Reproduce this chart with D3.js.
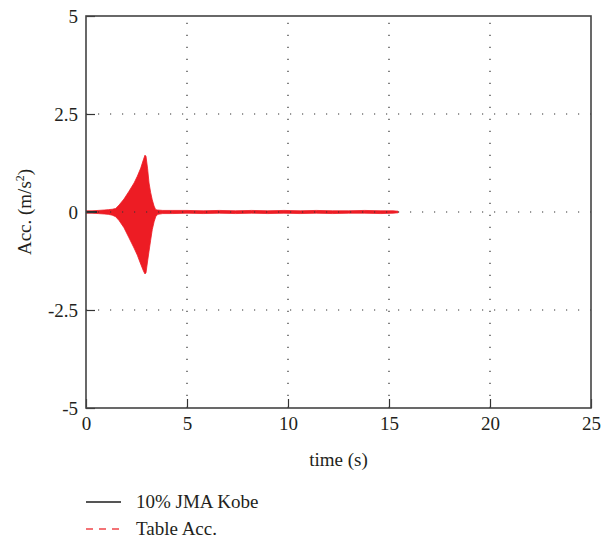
<!DOCTYPE html>
<html>
<head>
<meta charset="utf-8">
<script src="https://cdn.jsdelivr.net/npm/d3@7"></script>
<style>
  html, body { margin: 0; padding: 0; background: #fff; }
  svg { display: block; }
  text { font-family: "Liberation Serif", "DejaVu Serif", serif; fill: #231f20; }
</style>
</head>
<body>
<div id="chart"></div>
<script>
// Axis ticks
const xTicks = [0, 5, 10, 15, 20, 25];
const yTicks = [-5, -2.5, 0, 2.5, 5];
const yTickLabels = ["-5", "-2.5", "0", "2.5", "5"];

// Table acceleration record: upper / lower envelope of the dense oscillation (m/s²)
const tableTime  = [0, 0.3, 0.6, 0.9, 1.1, 1.3, 1.47, 1.64, 1.88, 2.13, 2.38, 2.54, 2.71, 2.84, 2.92, 2.97, 3.05, 3.12, 3.2, 3.28, 3.37, 3.45, 3.55, 3.8, 4.3, 5.0, 5.8, 6.6, 7.4, 8.2, 9.0, 9.8, 10.6, 11.4, 12.2, 13.0, 13.8, 14.6, 15.2, 15.45];
const tableUpper = [0.03, 0.03, 0.04, 0.05, 0.06, 0.07, 0.09, 0.18, 0.33, 0.53, 0.74, 0.91, 1.12, 1.33, 1.45, 1.42, 1.1, 0.74, 0.5, 0.31, 0.15, 0.06, 0.05, 0.04, 0.04, 0.04, 0.03, 0.04, 0.03, 0.04, 0.03, 0.04, 0.03, 0.04, 0.03, 0.03, 0.04, 0.03, 0.03, 0.02];
const tableLower = [-0.03, -0.03, -0.04, -0.05, -0.06, -0.08, -0.12, -0.22, -0.40, -0.66, -0.92, -1.10, -1.33, -1.50, -1.58, -1.55, -1.25, -1.00, -0.72, -0.45, -0.25, -0.12, -0.06, -0.04, -0.04, -0.03, -0.04, -0.03, -0.04, -0.03, -0.04, -0.03, -0.04, -0.03, -0.04, -0.03, -0.03, -0.04, -0.03, -0.02];

// 10% JMA Kobe record: the part left visible near the start of the trace
const kobeTime = [0, 0.2, 0.4, 0.55];
const kobeAcc  = [0, 0, 0, 0];

const legendNames = ["10% JMA Kobe", "Table Acc."];

const W = 602, H = 538;
const margin = { left: 86, right: 11, top: 16, bottom: 130 };

const svg = d3.select("#chart").append("svg")
  .attr("width", W).attr("height", H);

const x = d3.scaleLinear().domain([0, 25]).range([margin.left, W - margin.right]);
const y = d3.scaleLinear().domain([-5, 5]).range([H - margin.bottom, margin.top]);

const plotL = x(0), plotR = x(25), plotT = y(5), plotB = y(-5);

// clip
svg.append("clipPath").attr("id", "plotClip")
  .append("rect").attr("x", plotL).attr("y", plotT)
  .attr("width", plotR - plotL).attr("height", plotB - plotT);

const plot = svg.append("g").attr("clip-path", "url(#plotClip)");

// Table acceleration: dense red oscillation drawn as its envelope band
const tableData = tableTime.map((t, i) => ({ t, hi: tableUpper[i], lo: tableLower[i] }));
plot.append("path")
  .datum(tableData)
  .attr("fill", "#ed1c24")
  .attr("stroke", "#ed1c24")
  .attr("stroke-width", 0.8)
  .attr("d", d3.area().x(d => x(d.t)).y0(d => y(d.lo)).y1(d => y(d.hi)));

// Kobe record visible segment
const kobeData = kobeTime.map((t, i) => ({ t, v: kobeAcc[i] }));
plot.append("path")
  .datum(kobeData)
  .attr("fill", "none")
  .attr("stroke", "#2b2b2b")
  .attr("stroke-width", 2)
  .attr("d", d3.line().x(d => x(d.t)).y(d => y(d.v)));

// Dotted grid, drawn above the traces
const grid = svg.append("g");
grid.selectAll("line.gx").data(xTicks.filter(v => v > 0 && v < 25)).join("line")
  .attr("x1", d => x(d)).attr("x2", d => x(d))
  .attr("y1", plotB).attr("y2", plotT)
  .attr("stroke", "#333").attr("stroke-width", 1.2)
  .attr("stroke-dasharray", "1.2,10.8");
grid.selectAll("line.gy").data(yTicks.filter(v => v > -5 && v < 5)).join("line")
  .attr("x1", plotL).attr("x2", plotR)
  .attr("y1", d => y(d)).attr("y2", d => y(d))
  .attr("stroke", "#333").attr("stroke-width", 1.2)
  .attr("stroke-dasharray", "1.2,10.8")
  .attr("stroke-dashoffset", -12);

// Axes (ticks pointing inward)
const xAxis = d3.axisBottom(x).tickValues(xTicks).tickSizeInner(-9).tickSizeOuter(0).tickPadding(8)
  .tickFormat(d3.format("d"));
const gx = svg.append("g").attr("transform", `translate(0,${plotB})`).call(xAxis);
gx.select(".domain").remove();
gx.selectAll(".tick line").attr("stroke", "#333").attr("stroke-width", 1.2);
gx.selectAll(".tick text").attr("font-size", 19).attr("fill", "#231f20")
  .attr("font-family", "Liberation Serif, DejaVu Serif, serif").attr("dy", "0.72em");

const yAxis = d3.axisLeft(y).tickValues(yTicks).tickSizeInner(-9).tickSizeOuter(0).tickPadding(8)
  .tickFormat((d, i) => yTickLabels[i]);
const gy = svg.append("g").attr("transform", `translate(${plotL},0)`).call(yAxis);
gy.select(".domain").remove();
gy.selectAll(".tick line").attr("stroke", "#333").attr("stroke-width", 1.2);
gy.selectAll(".tick text").attr("font-size", 19).attr("fill", "#231f20")
  .attr("font-family", "Liberation Serif, DejaVu Serif, serif");

// Frame
svg.append("rect")
  .attr("x", plotL).attr("y", plotT)
  .attr("width", plotR - plotL).attr("height", plotB - plotT)
  .attr("fill", "none").attr("stroke", "#444").attr("stroke-width", 1.6);

// Axis titles
svg.append("text")
  .attr("x", (plotL + plotR) / 2).attr("y", 466)
  .attr("text-anchor", "middle").attr("font-size", 19)
  .text("time (s)");

const yTitle = svg.append("text")
  .attr("transform", `translate(31,${y(0)}) rotate(-90)`)
  .attr("text-anchor", "middle").attr("font-size", 19);
yTitle.append("tspan").text("Acc. (m/s");
yTitle.append("tspan").attr("font-size", 12).attr("dy", -7).text("2");
yTitle.append("tspan").attr("dy", 7).text(")");

// Legend
const legend = svg.append("g");
const legendY = [502, 529];
legend.append("line")
  .attr("x1", 86).attr("x2", 121).attr("y1", legendY[0]).attr("y2", legendY[0])
  .attr("stroke", "#555").attr("stroke-width", 2);
legend.append("line")
  .attr("x1", 86).attr("x2", 121).attr("y1", legendY[1]).attr("y2", legendY[1])
  .attr("stroke", "#f0454a").attr("stroke-width", 1.5)
  .attr("stroke-dasharray", "7,6");
legend.selectAll("text.lg").data(legendNames).join("text")
  .attr("x", 136).attr("y", (d, i) => legendY[i] + 6)
  .attr("font-size", 19)
  .text(d => d);
</script>
</body>
</html>
